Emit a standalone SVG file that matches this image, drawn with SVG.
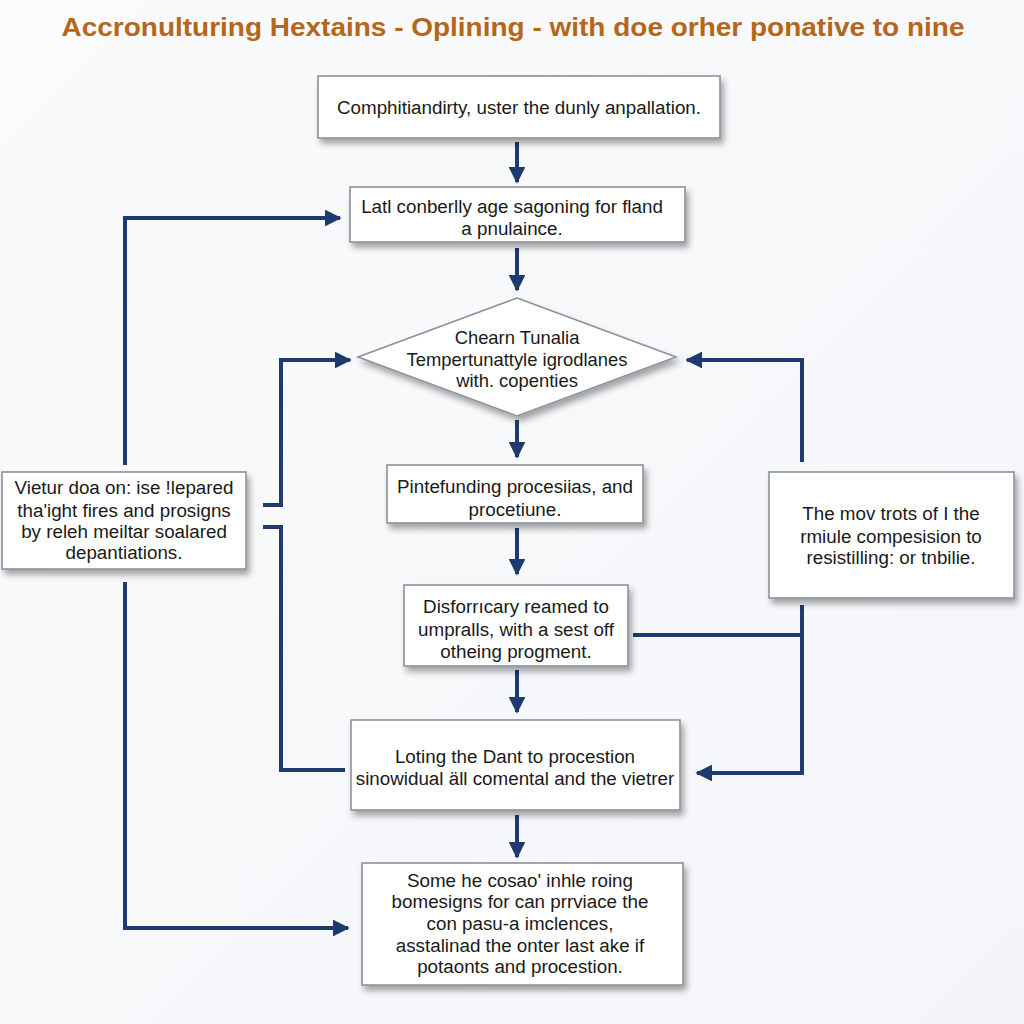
<svg xmlns="http://www.w3.org/2000/svg" width="1024" height="1024" viewBox="0 0 1024 1024">
<defs>
<linearGradient id="bg" x1="0" y1="0" x2="1" y2="1">
<stop offset="0" stop-color="#fbfbfc"/>
<stop offset="1" stop-color="#f3f5f8"/>
</linearGradient>
<filter id="sh" x="-10%" y="-10%" width="125%" height="135%">
<feGaussianBlur in="SourceAlpha" stdDeviation="3"/>
<feOffset dx="3" dy="5" result="b"/>
<feComponentTransfer><feFuncA type="linear" slope="0.35"/></feComponentTransfer>
<feMerge><feMergeNode/><feMergeNode in="SourceGraphic"/></feMerge>
</filter>
<marker id="ah" viewBox="0 0 10 10" refX="9" refY="5" markerWidth="4.2" markerHeight="4.2" orient="auto" markerUnits="strokeWidth">
<path d="M0,0 L10,5 L0,10 Z" fill="#1e3a6e"/>
</marker>
</defs>
<style>
.box{fill:#ffffff;stroke:#8b929c;stroke-width:1.6;filter:url(#sh)}
.t{font-family:"Liberation Sans",Arial,sans-serif;font-size:18.8px;fill:#1a1a1a;text-anchor:middle}
.d{font-size:18.4px}
.c{fill:none;stroke:#1e3a6e;stroke-width:4}
.ca{fill:none;stroke:#1e3a6e;stroke-width:4;marker-end:url(#ah)}
</style>
<rect width="1024" height="1024" fill="url(#bg)"/>
<text x="513" y="36" font-family="Liberation Sans,Arial,sans-serif" font-size="25" font-weight="bold" fill="#b5661c" text-anchor="middle" textLength="903" lengthAdjust="spacingAndGlyphs">Accronulturing Hextains - Oplining - with doe orher ponative to nine</text>

<g id="connectors">
<line class="ca" x1="517" y1="142" x2="517" y2="182"/>
<line class="ca" x1="517" y1="248" x2="517" y2="290"/>
<line class="ca" x1="517" y1="420" x2="517" y2="457"/>
<line class="ca" x1="517" y1="528" x2="517" y2="574"/>
<line class="ca" x1="517" y1="670" x2="517" y2="712"/>
<line class="ca" x1="517" y1="815" x2="517" y2="857"/>
<polyline class="ca" points="125,465 125,218 340,218"/>
<polyline class="ca" points="263,505 281,505 281,360 350,360"/>
<polyline class="c" points="263,527 281,527 281,770 345,770"/>
<polyline class="ca" points="125,582 125,928 348,928"/>
<polyline class="ca" points="802,462 802,360 687,360"/>
<polyline class="ca" points="802,605 802,773 697,773"/>
<line class="c" x1="633" y1="635" x2="802" y2="635"/>
</g>

<g id="n1"><rect class="box" x="318" y="76" width="402" height="62"/>
<text class="t" x="519" y="114">Comphitiandirty, uster the dunly anpallation.</text></g>

<g id="n2"><rect class="box" x="350" y="187" width="335" height="55"/>
<text class="t" x="512" y="213">Latl conberlly age sagoning for fland</text>
<text class="t" x="512" y="235">a pnulaince.</text></g>

<g id="n3"><polygon class="box" points="517,298 676,357 517,416 358,357"/>
<text class="t d" x="517" y="344">Chearn Tunalia</text>
<text class="t d" x="517" y="366">Tempertunattyle igrodlanes</text>
<text class="t d" x="517" y="387">with. copenties</text></g>

<g id="n4"><rect class="box" x="387" y="465" width="256" height="58"/>
<text class="t" x="515" y="493">Pintefunding procesiias, and</text>
<text class="t" x="515" y="516">procetiune.</text></g>

<g id="n5"><rect class="box" x="404" y="585" width="224" height="81"/>
<text class="t" x="516" y="613">Disforrıcary reamed to</text>
<text class="t" x="516" y="636">umpralls, with a sest off</text>
<text class="t" x="516" y="658">otheing progment.</text></g>

<g id="n6"><rect class="box" x="351" y="720" width="329" height="90"/>
<text class="t" x="515" y="763">Loting the Dant to procestion</text>
<text class="t" x="515" y="785">sinowidual äll comental and the vietrer</text></g>

<g id="n7"><rect class="box" x="362" y="863" width="321" height="122"/>
<text class="t" x="520" y="887">Some he cosao' inhle roing</text>
<text class="t" x="520" y="908">bomesigns for can prrviace the</text>
<text class="t" x="520" y="930">con pasu-a imclences,</text>
<text class="t" x="520" y="952">asstalinad the onter last ake if</text>
<text class="t" x="520" y="973">potaonts and procestion.</text></g>

<g id="n8"><rect class="box" x="2" y="472" width="244" height="97"/>
<text class="t" x="124" y="494">Vietur doa on: ise !lepared</text>
<text class="t" x="124" y="517">tha'ight fires and prosigns</text>
<text class="t" x="124" y="538">by releh meiltar soalared</text>
<text class="t" x="124" y="559">depantiations.</text></g>

<g id="n9"><rect class="box" x="769" y="472" width="245" height="126"/>
<text class="t" x="891" y="520">The mov trots of I the</text>
<text class="t" x="891" y="543">rmiule compesision to</text>
<text class="t" x="891" y="564">resistilling: or tnbilie.</text></g>
</svg>
